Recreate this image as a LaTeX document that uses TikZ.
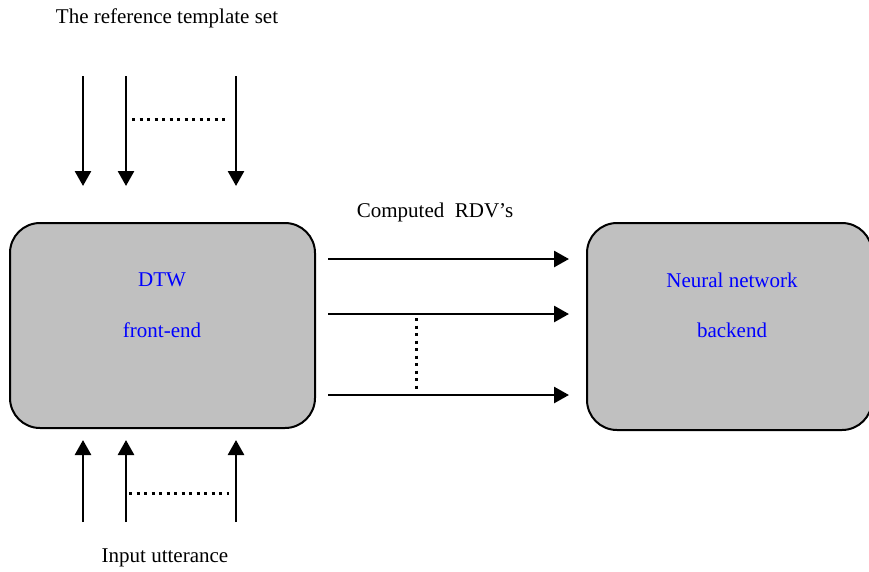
\documentclass[tikz,border=0pt]{standalone}
\usepackage{fontspec}
\setmainfont{Liberation Serif}
\usepackage{xcolor}
\usetikzlibrary{arrows.meta}
\definecolor{gristemp}{RGB}{192,192,192}
\definecolor{bleutexte}{RGB}{0,0,255}

\begin{document}
\begin{tikzpicture}[x=1pt,y=-1pt,
        font=\fontsize{21}{25}\selectfont,
        bloc/.style={draw, line width=2pt, fill=gristemp, rounded corners=30pt},
        texte/.style={text=bleutexte},
        fleche/.style={line width=2.7pt, -{Triangle[length=15pt,width=16pt]}},
        pointille/.style={line width=3pt, dash pattern=on 3pt off 4.5pt}]
        \useasboundingbox (0,0) rectangle (869,571);
        % Blocs
        \node[bloc, minimum width=305pt, minimum height=205pt] (dtw) at (162.5,325.5) {};
        \node[bloc, minimum width=285pt, minimum height=207pt] (nn) at (729.5,326.5) {};
        \node[texte] (dtwa) at (162,280) {DTW};
        \node[texte] (dtwb) at (162,330) {front-end};
        \node[texte] (nna) at (732,280) {Neural network};
        \node[texte] (nnb) at (732,330) {backend};
        % Textes
        \node (ref) at (167,18) {The reference template set};
        \node (rdv) at (435,212) {Computed~~RDV’s};
        \node (inp) at (165,558) {Input utterance};
        % Fleches du haut
        \coordinate (h1) at (83,76);   \coordinate (h1b) at (83,186);
        \coordinate (h2) at (126,76);  \coordinate (h2b) at (126,186);
        \coordinate (h3) at (236,76);  \coordinate (h3b) at (236,186);
        \draw[fleche] (h1) -- (h1b);
        \draw[fleche] (h2) -- (h2b);
        \draw[fleche] (h3) -- (h3b);
        \coordinate (hp) at (132,119); \coordinate (hpb) at (226,119);
        \draw[pointille] (hp) -- (hpb);
        % Fleches du milieu
        \coordinate (m1) at (328,259); \coordinate (m1b) at (569,259);
        \coordinate (m2) at (328,314); \coordinate (m2b) at (569,314);
        \coordinate (m3) at (328,395); \coordinate (m3b) at (569,395);
        \draw[fleche] (m1) -- (m1b);
        \draw[fleche] (m2) -- (m2b);
        \draw[fleche] (m3) -- (m3b);
        \coordinate (mp) at (416,318); \coordinate (mpb) at (416,391);
        \draw[pointille] (mp) -- (mpb);
        % Fleches du bas
        \coordinate (b1) at (83,522);  \coordinate (b1b) at (83,440);
        \coordinate (b2) at (126,522); \coordinate (b2b) at (126,440);
        \coordinate (b3) at (236,522); \coordinate (b3b) at (236,440);
        \draw[fleche] (b1) -- (b1b);
        \draw[fleche] (b2) -- (b2b);
        \draw[fleche] (b3) -- (b3b);
        \coordinate (bp) at (129,493); \coordinate (bpb) at (229,493);
        \draw[pointille] (bp) -- (bpb);
\end{tikzpicture}
\end{document}
